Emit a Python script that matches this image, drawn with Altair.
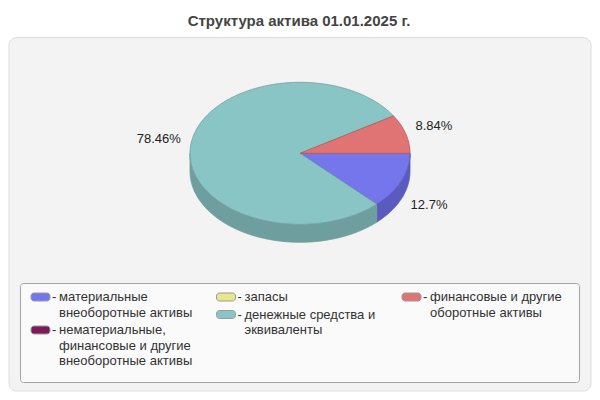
import altair as alt
import pandas as pd
import numpy as np

# Данные диаграммы
categories = [
    "материальные внеоборотные активы",
    "нематериальные, финансовые и другие внеоборотные активы",
    "запасы",
    "денежные средства и эквиваленты",
    "финансовые и другие оборотные активы",
]
values = [12.7, 0.0, 0.0, 78.46, 8.84]
legend_lines = [
    ["материальные", "внеоборотные активы"],
    ["нематериальные,", "финансовые и другие", "внеоборотные активы"],
    ["запасы"],
    ["денежные средства и", "эквиваленты"],
    ["финансовые и другие", "оборотные активы"],
]
legend_columns = [0, 0, 1, 1, 2]
top_colors = ["#7676ec", "#7a1a5a", "#e6e68c", "#8ac5c5", "#e07373"]
side_colors = ["#5a5abf", "#5c1444", "#b8b870", "#6e9e9d", "#b35c5c"]
title_text = "Структура актива 01.01.2025 г."

FONT = "Arial, Liberation Sans, sans-serif"

# Геометрия псевдо-3D пирога (в пикселях страницы)
cx, cy, rx, ry, depth = 300, 153.3, 110, 71, 18

total = sum(values)
tops, sides, labels = [], [], []
start = 0.0
for i, v in enumerate(values):
    sweep = 360.0 * v / total
    a0, a1 = start, start + sweep
    start = a1
    if v <= 0:
        continue
    ang = np.radians(np.linspace(a0, a1, max(int(sweep), 2) + 1))
    pts = [(cx, cy)] + [(cx + rx * np.cos(a), cy + ry * np.sin(a)) for a in ang] + [(cx, cy)]
    for k, (px, py) in enumerate(pts):
        tops.append({"id": i, "k": k, "x": px, "y": py, "fill": top_colors[i], "stroke": side_colors[i]})
    # видимая боковая стенка (передняя половина)
    s0, s1 = max(a0, 0), min(a1, 180)
    if s1 > s0:
        sa = np.radians(np.linspace(s0, s1, max(int(s1 - s0), 2) + 1))
        front = [(cx + rx * np.cos(a), cy + ry * np.sin(a)) for a in sa]
        back = [(px, py + depth) for px, py in front[::-1]]
        for k, (px, py) in enumerate(front + back + front[:1]):
            sides.append({"id": i, "k": k, "x": px, "y": py, "fill": side_colors[i], "stroke": side_colors[i]})
    mid = np.radians((a0 + a1) / 2)
    lx = cx + (rx + 10) * np.cos(mid)
    ly = cy + (ry + 12) * np.sin(mid) + (depth + 1.5 if np.sin(mid) > 0 else -4.5)
    labels.append({"x": lx, "y": ly, "text": f"{v}%", "align": "left" if np.cos(mid) >= 0 else "right"})

tops_df = pd.DataFrame(tops)
sides_df = pd.DataFrame(sides)
labels_df = pd.DataFrame(labels)

# Легенда
sw, tx = [], []
col_y = {}
for i, lines in enumerate(legend_lines):
    c = legend_columns[i]
    x0 = 31 + c * 185.5
    y0 = col_y.get(c, 297)
    sw.append({"x": x0, "x2": x0 + 19, "y": y0 - 4, "y2": y0 + 4, "color": top_colors[i]})
    tx.append({"x": x0 + 21, "y": y0, "text": "-"})
    for j, line in enumerate(lines):
        tx.append({"x": x0 + 28, "y": y0 + j * 15.5, "text": line})
    col_y[c] = y0 + len(lines) * 15.5 + 2
sw_df = pd.DataFrame(sw)
tx_df = pd.DataFrame(tx)

xs = alt.Scale(domain=[8, 592], nice=False, zero=False)
ys = alt.Scale(domain=[8, 392], reverse=True, nice=False, zero=False)

base = alt.Chart(pd.DataFrame({"a": [0]}))

panel = base.mark_rect(fill="#f3f3f3", stroke="#dcdcdc", strokeWidth=1, cornerRadius=8).encode(
    x=alt.X(datum=9, scale=xs, axis=None), x2=alt.X2(datum=591),
    y=alt.Y(datum=37.5, scale=ys, axis=None), y2=alt.Y2(datum=391),
)
legend_box = base.mark_rect(fill="#fafafa", stroke="#a3a3a3", strokeWidth=1, cornerRadius=3).encode(
    x=alt.X(datum=20.5, scale=xs, axis=None), x2=alt.X2(datum=579.5),
    y=alt.Y(datum=283.5, scale=ys, axis=None), y2=alt.Y2(datum=382.5),
)

side_layer = alt.Chart(sides_df).mark_line(strokeWidth=0.8, interpolate="linear").encode(
    x=alt.X("x:Q", scale=xs, axis=None),
    y=alt.Y("y:Q", scale=ys, axis=None),
    detail="id:N",
    order="k:Q",
    fill=alt.Fill("fill:N", scale=None),
    stroke=alt.Stroke("stroke:N", scale=None),
)
top_layer = alt.Chart(tops_df).mark_line(strokeWidth=0.8, interpolate="linear").encode(
    x=alt.X("x:Q", scale=xs, axis=None),
    y=alt.Y("y:Q", scale=ys, axis=None),
    detail="id:N",
    order="k:Q",
    fill=alt.Fill("fill:N", scale=None),
    stroke=alt.Stroke("stroke:N", scale=None),
)

label_left = alt.Chart(labels_df[labels_df["align"] == "left"]).mark_text(
    align="left", baseline="middle", font=FONT, fontSize=13, color="#222"
).encode(x=alt.X("x:Q", scale=xs, axis=None), y=alt.Y("y:Q", scale=ys, axis=None), text="text:N")
label_right = alt.Chart(labels_df[labels_df["align"] == "right"]).mark_text(
    align="right", baseline="middle", font=FONT, fontSize=13, color="#222"
).encode(x=alt.X("x:Q", scale=xs, axis=None), y=alt.Y("y:Q", scale=ys, axis=None), text="text:N")

swatches = alt.Chart(sw_df).mark_rect(stroke="#9a9a9a", strokeWidth=1, cornerRadius=3).encode(
    x=alt.X("x:Q", scale=xs, axis=None), x2="x2:Q",
    y=alt.Y("y:Q", scale=ys, axis=None), y2="y2:Q",
    color=alt.Color("color:N", scale=None),
)
legend_text = alt.Chart(tx_df).mark_text(
    align="left", baseline="middle", font=FONT, fontSize=13, color="#333"
).encode(x=alt.X("x:Q", scale=xs, axis=None), y=alt.Y("y:Q", scale=ys, axis=None), text="text:N")

title = base.mark_text(
    align="center", baseline="alphabetic", font=FONT, fontSize=15, fontWeight="bold", color="#444"
).encode(
    x=alt.X(datum=299, scale=xs, axis=None),
    y=alt.Y(datum=25.8, scale=ys, axis=None),
    text=alt.value(title_text),
)

chart = alt.layer(
    panel, legend_box, side_layer, top_layer, label_left, label_right, swatches, legend_text, title
).properties(
    width=584, height=384, padding=0, autosize=alt.AutoSizeParams(type="none"), background="white"
).configure_view(stroke=None)

chart.save("out.html", embed_options={"renderer": "svg", "actions": False})
